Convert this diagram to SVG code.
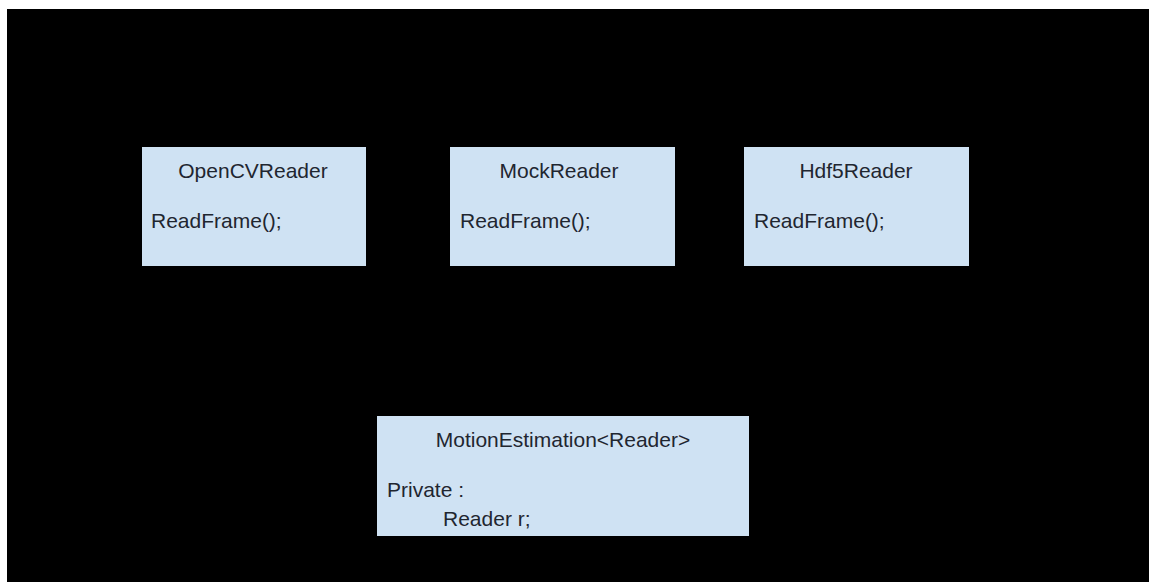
<svg xmlns="http://www.w3.org/2000/svg" width="1149" height="582" viewBox="0 0 1149 582">
<style>
.box{fill:#cfe2f3;stroke:none}
.t{font-family:"Liberation Sans",Arial,sans-serif;font-size:21px;fill:#1f2630}
.c{text-anchor:middle}
</style>
<rect x="0" y="0" width="1149" height="582" fill="#ffffff"/>
<rect x="7" y="9" width="1142" height="573" fill="#000000"/>
<g id="connectors"></g>
<g id="opencvreader">
<rect class="box" x="142" y="147" width="224" height="119"/>
<text class="t c" x="253" y="178">OpenCVReader</text>
<text class="t" x="151" y="228">ReadFrame();</text>
</g>
<g id="mockreader">
<rect class="box" x="450" y="147" width="225" height="119"/>
<text class="t c" x="559" y="178">MockReader</text>
<text class="t" x="460" y="228">ReadFrame();</text>
</g>
<g id="hdf5reader">
<rect class="box" x="744" y="147" width="225" height="119"/>
<text class="t c" x="856" y="178">Hdf5Reader</text>
<text class="t" x="754" y="228">ReadFrame();</text>
</g>
<g id="motionestimation">
<rect class="box" x="377" y="416" width="372" height="120"/>
<text class="t c" x="563" y="447">MotionEstimation&lt;Reader&gt;</text>
<text class="t" x="387" y="497">Private :</text>
<text class="t" x="443" y="526">Reader r;</text>
</g>
</svg>
